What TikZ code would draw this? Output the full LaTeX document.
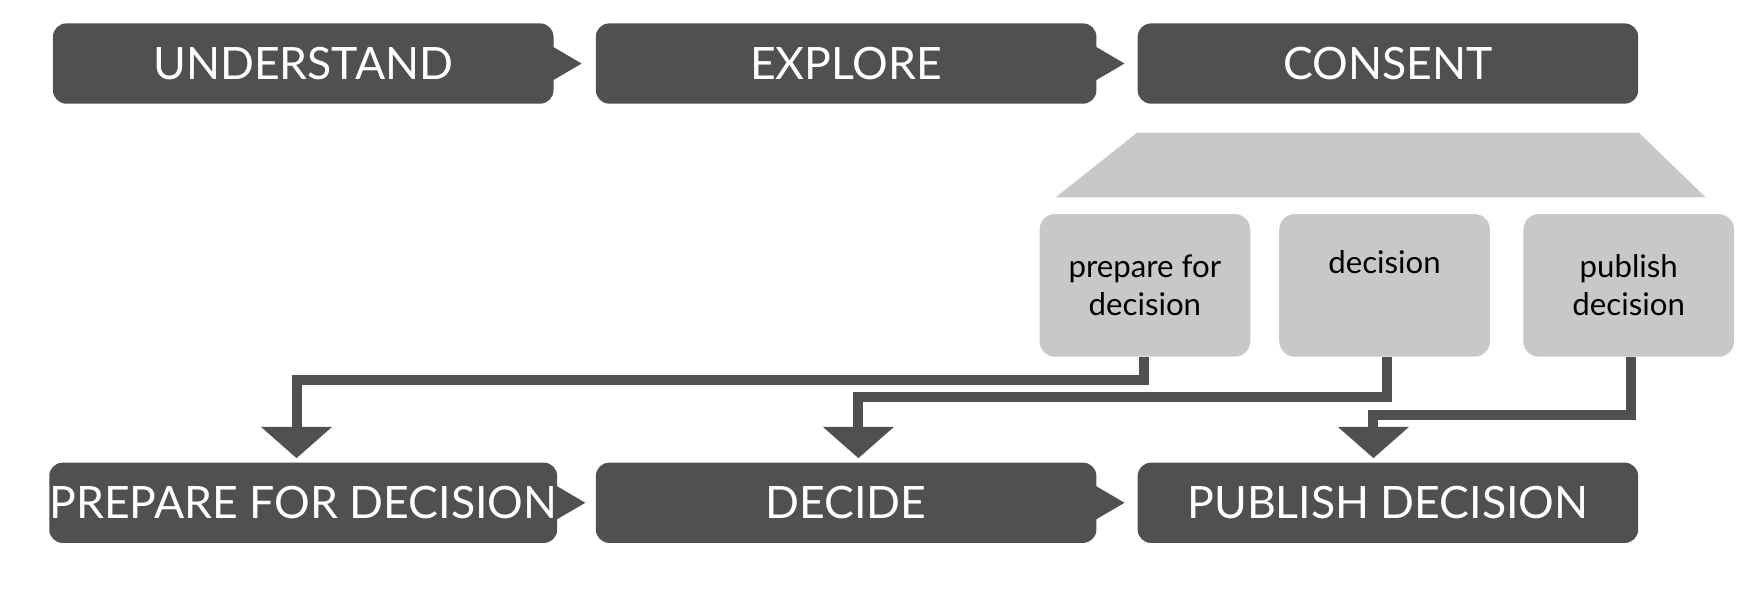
\documentclass[tikz,border=0pt]{standalone}
\usepackage{fontspec}
\setmainfont{Lato}
\usetikzlibrary{arrows.meta}
\definecolor{dark}{HTML}{505050}
\definecolor{light}{HTML}{C8C8C8}
\begin{document}
\begin{tikzpicture}
        [x=1pt, y=-1pt,
        phase/.style={fill=dark, rounded corners=12pt, minimum width=449pt, minimum height=72pt,
            text=white, font=\fontsize{40}{44}\selectfont, inner sep=0pt},
        sub/.style={fill=light, rounded corners=14pt, minimum width=189pt, minimum height=128pt,
            text=black, font=\fontsize{28}{34}\selectfont, align=center, inner sep=0pt},
        chevron/.style={fill=dark},
        link/.style={dark, line width=9pt, -{Triangle[width=62pt,length=28pt]}}]

        \useasboundingbox (0,0) rectangle (1568,532);

        % top row
        \node[phase] (understand) at (272,57) {UNDERSTAND};
        \node[phase] (explore) at (759,57) {EXPLORE};
        \node[phase] (consent) at (1245,57) {CONSENT};

        % bottom row
        \node[phase] (prepare) at (272,451) {PREPARE FOR DECISION};
        \node[phase] (decide) at (759,451) {DECIDE};
        \node[phase] (publish) at (1245,451) {PUBLISH DECISION};

        % chevrons between phases
        \foreach \n in {understand, explore, prepare, decide}
            \fill[chevron] ([xshift=-4pt,yshift=17pt]\n.east) -- ([xshift=25pt]\n.east) -- ([xshift=-4pt,yshift=-17pt]\n.east) -- cycle;

        % zoom-out of consent
        \fill[light] (1020,119) -- (1470,119) -- (1530,177) -- (947,177) -- cycle;

        % sub phases
        \node[sub] (subprepare) at (1027,256) {prepare for\\decision};
        \node[sub] (subdecision) at (1242,256) {decision\\[8pt]};
        \node[sub] (subpublish) at (1461,256) {publish\\decision};

        % links down to bottom row
        \draw[link] ([xshift=-1pt]subprepare.south) |- (266,341) -- (266,411);
        \draw[link] ([xshift=2pt]subdecision.south) |- (770,356) -- (770,411);
        \draw[link] ([xshift=2pt]subpublish.south) |- (1232,372) -- (1232,411);

        \end{tikzpicture}
\end{document}
